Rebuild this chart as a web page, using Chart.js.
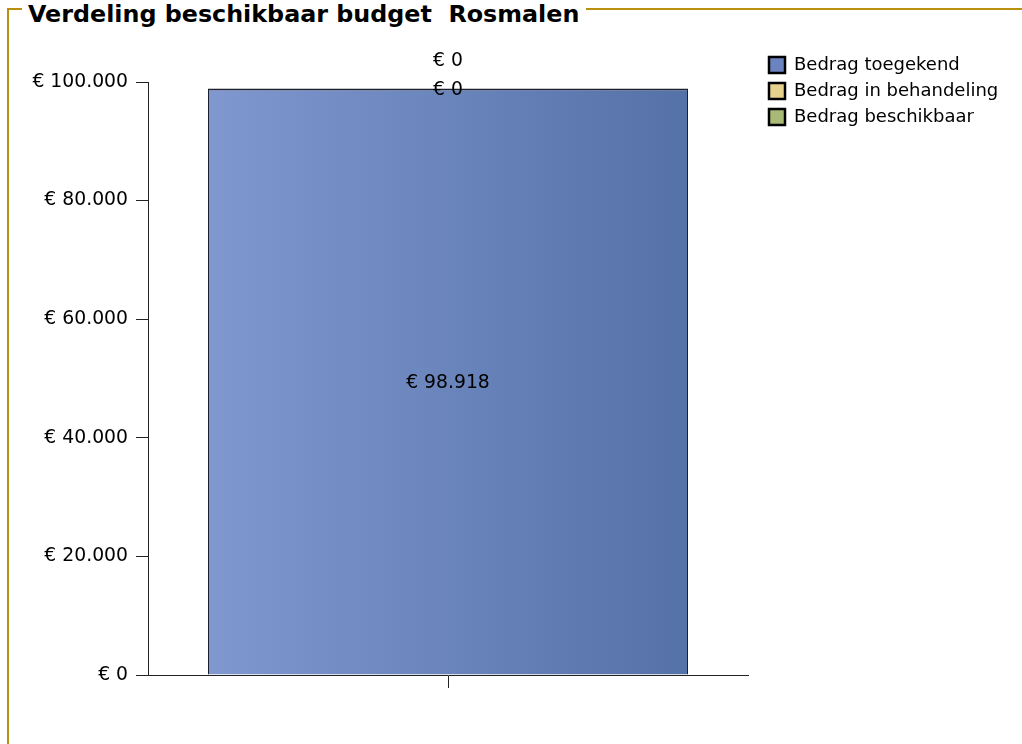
<!DOCTYPE html>
<html>
<head>
<meta charset="utf-8">
<script src="https://cdn.jsdelivr.net/npm/chart.js@4.4.1/dist/chart.umd.min.js"></script>
<style>
  html, body { margin: 0; padding: 0; background: #ffffff; width: 1022px; height: 744px; overflow: hidden; }
  .frame { position: absolute; left: 7px; top: 8px; width: 1100px; height: 800px;
           border-top: 2px solid #B8900E; border-left: 2px solid #B8900E; box-sizing: border-box; }
  .title { position: absolute; left: 22px; top: 0px; padding: 0 7px 0 6px; background: #ffffff;
           font-family: "DejaVu Sans", sans-serif; font-weight: bold; font-size: 23.8px; line-height: 28px;
           color: #000; white-space: pre; }
  #wrap { position: absolute; left: 0; top: 0; width: 1022px; height: 744px; }
</style>
</head>
<body>
<div class="frame"></div>
<div class="title">Verdeling beschikbaar budget  Rosmalen</div>
<div id="wrap"><canvas id="c" width="1022" height="744"></canvas></div>
<script>
// ---- data ----
const categories = [''];
const seriesNames = ['Bedrag toegekend', 'Bedrag in behandeling', 'Bedrag beschikbaar'];
const toegekend = [98918];
const inBehandeling = [0];
const beschikbaar = [0];
const yTicks = [0, 20000, 40000, 60000, 80000, 100000];

// ---- styles ----
const FONT = '"DejaVu Sans", sans-serif';
const TICK_SIZE = 18.8;
const LEGEND_SIZE = 18;
const gradStops = [
  ['#8097d0', '#5471a8'],
  ['#efdca0', '#d8c070'],
  ['#b6c686', '#93a862']
];
const legendFill = ['#6b84c0', '#e6d28c', '#a8ba76'];

function fmt(v) {
  const s = Math.round(v).toString().replace(/\B(?=(\d{3})+(?!\d))/g, '.');
  return '\u20AC ' + s;
}

function makeFill(i, fallback) {
  return (ctx) => {
    const chart = ctx.chart;
    if (!chart.chartArea || !chart.scales.x) return fallback;
    const xs = chart.scales.x;
    const center = xs.getPixelForValue(ctx.dataIndex);
    const half = (xs.width / categories.length) * 0.8 / 2;
    const g = chart.ctx.createLinearGradient(center - half, 0, center + half, 0);
    g.addColorStop(0, gradStops[i][0]);
    g.addColorStop(1, gradStops[i][1]);
    return g;
  };
}

// measure legend width so the chart area ends at the right place
const mctx = document.createElement('canvas').getContext('2d');
mctx.font = LEGEND_SIZE + 'px ' + FONT;
const maxTextW = Math.max(...seriesNames.map(t => mctx.measureText(t).width));
const BOX = 16;
const LEG_PAD = 8;
const legendW = LEG_PAD + BOX + LEGEND_SIZE / 2 + maxTextW + 10;
const AREA_RIGHT = 748;
const padRight = 1022 - AREA_RIGHT - legendW;

const valueLabels = {
  id: 'valueLabels',
  afterDatasetsDraw(chart) {
    const ctx = chart.ctx;
    ctx.save();
    ctx.font = TICK_SIZE + 'px ' + FONT;
    ctx.fillStyle = '#000';
    ctx.textAlign = 'center';
    ctx.textBaseline = 'middle';
    const lastY = {};
    chart.data.datasets.forEach((ds, di) => {
      const meta = chart.getDatasetMeta(di);
      meta.data.forEach((el, idx) => {
        let y = (el.y + el.base) / 2 + 2;
        if (lastY[idx] !== undefined && y > lastY[idx] - 29) y = lastY[idx] - 29;
        lastY[idx] = y;
        ctx.fillText(fmt(ds.data[idx]), el.x, y);
      });
    });
    ctx.restore();
  }
};

const legendShift = {
  id: 'legendShift',
  afterLayout(chart) {
    const lg = chart.legend;
    if (!lg) return;
    lg.left += 13; lg.right += 13;
    lg.top -= 34; lg.bottom -= 34;
  }
};

new Chart(document.getElementById('c'), {
  type: 'bar',
  data: {
    labels: categories,
    datasets: [
      { label: seriesNames[0], data: toegekend, backgroundColor: makeFill(0, legendFill[0]),
        borderColor: '#1a2030', borderWidth: { top: 2, left: 1, right: 1, bottom: 0 }, borderSkipped: false },
      { label: seriesNames[1], data: inBehandeling, backgroundColor: makeFill(1, legendFill[1]),
        borderColor: '#000', borderWidth: 0 },
      { label: seriesNames[2], data: beschikbaar, backgroundColor: makeFill(2, legendFill[2]),
        borderColor: '#000', borderWidth: 0 }
    ]
  },
  options: {
    responsive: false,
    animation: false,
    devicePixelRatio: 1,
    layout: { padding: { top: 82, left: 0, right: padRight, bottom: 0 } },
    datasets: { bar: { barPercentage: 0.8, categoryPercentage: 1.0 } },
    plugins: {
      title: { display: false },
      tooltip: { enabled: false },
      legend: {
        position: 'right',
        align: 'start',
        labels: {
          font: { family: FONT, size: LEGEND_SIZE },
          color: '#000',
          boxWidth: BOX,
          boxHeight: BOX,
          padding: LEG_PAD,
          generateLabels: (chart) => chart.data.datasets.map((ds, i) => ({
            text: ds.label,
            fillStyle: legendFill[i],
            strokeStyle: '#000',
            lineWidth: 2.5,
            hidden: false,
            datasetIndex: i
          }))
        }
      }
    },
    scales: {
      x: {
        stacked: true,
        offset: true,
        grid: { display: true, offset: false, drawOnChartArea: false, drawTicks: true, tickLength: 13, color: '#222', lineWidth: 1 },
        border: { display: true, color: '#222', width: 1 },
        ticks: { display: true, font: { family: FONT, size: TICK_SIZE }, color: '#000' },
        afterFit: (s) => { s.height = 744 - 675; }
      },
      y: {
        stacked: true,
        min: 0,
        max: 100000,
        afterBuildTicks: (s) => { s.ticks = yTicks.map(v => ({ value: v })); },
        grid: { display: true, drawOnChartArea: false, drawTicks: true, tickLength: 12, color: '#222', lineWidth: 1 },
        border: { display: true, color: '#222', width: 1 },
        ticks: { padding: 8, font: { family: FONT, size: TICK_SIZE }, color: '#000', callback: (v) => fmt(v) },
        afterFit: (s) => { s.width = 148; }
      }
    }
  },
  plugins: [valueLabels, legendShift]
});
</script>
</body>
</html>
